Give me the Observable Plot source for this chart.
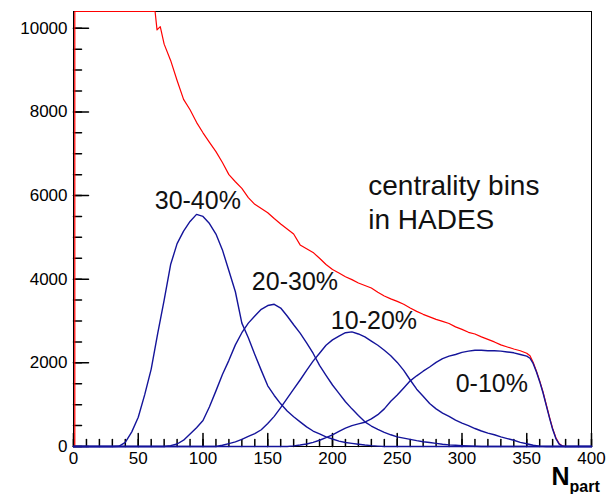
<!DOCTYPE html>
<html><head><meta charset="utf-8">
<script src="https://cdn.jsdelivr.net/npm/d3@7"></script>
<script src="https://cdn.jsdelivr.net/npm/@observablehq/plot@0.6"></script>
<style>
body{margin:0;background:#fff}
#chart svg{font-family:"Liberation Sans",Arial,Helvetica,sans-serif;display:block}
</style>
</head><body><div id="chart"></div>
<script>
// ---- data ----
// all events (red), N_part positions and counts; first points are off-scale (clipped at top)
const allX = [1, 1, 30, 63, 64.5, 67, 70, 75, 80, 85, 90, 95, 100, 105, 110, 115, 120, 125, 130, 135, 140, 145, 150, 155, 160, 165, 170, 175, 180, 185, 190, 195, 200, 205, 210, 215, 220, 225, 230, 235, 240, 245, 250, 255, 260, 265, 270, 275, 280, 285, 290, 295, 300, 305, 310, 315, 320, 325, 330, 335, 340, 345, 350, 352.5, 355, 357.5, 360, 362.5, 365, 367.5, 370, 372.5, 375, 377.5, 380, 400];
const allY = [0, 40000, 16000, 10500, 9960, 10040, 9620, 9230, 8750, 8300, 8050, 7750, 7500, 7270, 7050, 6790, 6500, 6330, 6170, 5950, 5790, 5690, 5590, 5450, 5320, 5200, 5080, 4820, 4730, 4640, 4500, 4350, 4230, 4150, 4060, 3990, 3910, 3850, 3790, 3690, 3600, 3530, 3470, 3400, 3310, 3230, 3160, 3100, 3040, 2990, 2940, 2860, 2800, 2730, 2690, 2620, 2560, 2500, 2430, 2380, 2330, 2290, 2230, 2170, 2010, 1800, 1570, 1310, 1010, 710, 430, 210, 70, 15, 0, 0];

// 30-40 % : values at N_part = 35, 40, ..., 240
const c3040Start = 35;
const c3040 = [5, 100, 350, 700, 1240, 1850, 2700, 3500, 4350, 4850, 5150, 5380, 5550, 5500, 5330, 5080, 4700, 4200, 3700, 2950, 2600, 2200, 1820, 1450, 1220, 1020, 850, 710, 590, 470, 370, 300, 230, 180, 130, 95, 75, 55, 35, 20, 10, 0];

// 20-30 % : values at N_part = 75, 80, ..., 315
const c2030Start = 75;
const c2030 = [20, 60, 150, 300, 450, 620, 950, 1330, 1720, 2060, 2430, 2720, 2950, 3120, 3280, 3370, 3400, 3310, 3120, 2910, 2710, 2480, 2230, 1940, 1700, 1470, 1270, 1070, 900, 740, 590, 490, 410, 340, 280, 230, 200, 170, 140, 115, 95, 75, 55, 40, 30, 20, 12, 5, 0];

// 10-20 % : values at N_part = 115, 120, ..., 365
const c1020Start = 115;
const c1020 = [30, 70, 110, 170, 240, 310, 400, 550, 720, 930, 1150, 1370, 1590, 1820, 2040, 2230, 2420, 2550, 2640, 2720, 2740, 2690, 2620, 2520, 2420, 2300, 2170, 2010, 1820, 1590, 1370, 1200, 1030, 900, 800, 720, 630, 560, 500, 430, 370, 320, 280, 230, 190, 150, 100, 65, 30, 10, 0];

// 0-10 % : N_part positions and counts
const c010X = [165, 170, 175, 180, 185, 190, 195, 200, 205, 210, 215, 220, 225, 230, 235, 240, 245, 250, 255, 260, 265, 270, 275, 280, 285, 290, 295, 300, 305, 310, 315, 320, 325, 330, 335, 340, 345, 350, 352.5, 355, 357.5, 360, 362.5, 365, 367.5, 370, 372.5, 375, 377.5, 380];
const c010Y = [0, 15, 35, 60, 100, 150, 210, 280, 360, 440, 500, 540, 580, 660, 760, 900, 1080, 1230, 1400, 1570, 1690, 1800, 1900, 2010, 2100, 2160, 2200, 2250, 2280, 2300, 2300, 2290, 2290, 2280, 2260, 2240, 2200, 2160, 2110, 1980, 1780, 1550, 1290, 990, 690, 410, 190, 55, 8, 0];

// axes
const xMajor = [0, 50, 100, 150, 200, 250, 300, 350, 400];
const xMinor = d3.range(0, 401, 10);
const yMajor = [0, 2000, 4000, 6000, 8000, 10000];
const yMinor = d3.range(0, 10401, 500);
const xDomain = [0, 400];
const yDomain = [0, 10400];

// annotations (data coordinates)
const labels = [
  {t: "30-40%", x: 96, y: 5880},
  {t: "20-30%", x: 171, y: 3936},
  {t: "10-20%", x: 232, y: 3011},
  {t: "0-10%", x: 323, y: 1498}
];
const note = {t: "centrality bins\nin HADES", x: 227.6, y: 5210};

// ---- build series ----
function series(start, vals, step) {
  const pts = [{x: 0, y: 0}, {x: start - step, y: 0}];
  vals.forEach((v, i) => pts.push({x: start + i * step, y: v}));
  pts.push({x: 400, y: 0});
  return pts;
}
const red = allX.map((x, i) => ({x, y: allY[i]}));
const s3040 = series(c3040Start, c3040, 5);
const s2030 = series(c2030Start, c2030, 5);
const s1020 = series(c1020Start, c1020, 5);
const s010 = [{x: 0, y: 0}].concat(c010X.map((x, i) => ({x, y: c010Y[i]})), [{x: 400, y: 0}]);

const tickShape = {draw(ctx, l) { ctx.moveTo(0, 0); ctx.lineTo(0, -l); }};
const BLUE = "#14149a";
const RED = "#ff0000";

const chart = Plot.plot({
  width: 613,
  height: 494,
  marginLeft: 73,
  marginRight: 22,
  marginTop: 11,
  marginBottom: 48,
  style: {fontSize: "17px", fontFamily: "'Liberation Sans', Arial, sans-serif", background: "#fff", color: "black"},
  x: {domain: xDomain},
  y: {domain: yDomain, clamp: true},
  marks: [
    Plot.frame({stroke: "black", strokeWidth: 1}),
    Plot.vector(yMinor, {y: d => d, frameAnchor: "left", length: 8, rotate: 90, anchor: "start", shape: tickShape, stroke: "black"}),
    Plot.vector(yMajor, {y: d => d, frameAnchor: "left", length: 15, rotate: 90, anchor: "start", shape: tickShape, stroke: "black"}),
    Plot.vector(xMinor, {x: d => d, frameAnchor: "bottom", length: 7, rotate: 0, anchor: "start", shape: tickShape, stroke: "black"}),
    Plot.vector(xMajor, {x: d => d, frameAnchor: "bottom", length: 13, rotate: 0, anchor: "start", shape: tickShape, stroke: "black"}),
    Plot.axisY({ticks: yMajor, tickSize: 0, tickPadding: 6, tickFormat: d => String(d), label: null, fontSize: 17}),
    Plot.axisX({ticks: xMajor, tickSize: 0, tickPadding: 5, tickFormat: d => String(d), label: null, fontSize: 17}),
    Plot.line(red, {x: "x", y: "y", stroke: RED, strokeWidth: 1.2}),
    Plot.line(s3040, {x: "x", y: "y", stroke: BLUE, strokeWidth: 1.4}),
    Plot.line(s2030, {x: "x", y: "y", stroke: BLUE, strokeWidth: 1.4}),
    Plot.line(s1020, {x: "x", y: "y", stroke: BLUE, strokeWidth: 1.4}),
    Plot.line(s010, {x: "x", y: "y", stroke: BLUE, strokeWidth: 1.4}),
    Plot.text(labels, {x: "x", y: "y", text: "t", fontSize: 25, fill: "#111", textAnchor: "middle", lineAnchor: "middle"}),
    Plot.text([note], {x: "x", y: "y", text: "t", fontSize: 28, fill: "#111", textAnchor: "start", lineAnchor: "bottom", lineHeight: 1.2}),
    Plot.text(["N"], {frameAnchor: "bottom-right", dx: -22, dy: 38, textAnchor: "end", lineAnchor: "bottom", fontSize: 25, fontWeight: "bold", fill: "black"}),
    Plot.text(["part"], {frameAnchor: "bottom-right", dx: -22, dy: 45, textAnchor: "start", lineAnchor: "bottom", fontSize: 16, fontWeight: "bold", fill: "black"})
  ]
});
document.getElementById("chart").appendChild(chart);
</script>
</body></html>
